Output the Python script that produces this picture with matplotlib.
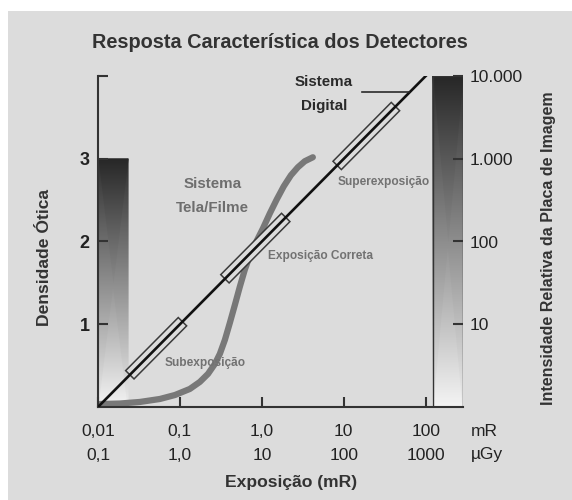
import matplotlib.pyplot as plt
from matplotlib.colors import LinearSegmentedColormap
from matplotlib.patches import Rectangle

plt.rcParams['font.family'] = ['Liberation Sans', 'DejaVu Sans']

BG = '#dcdcdc'
INK = '#333333'

# eixos
exposure_ticks = [0.01, 0.1, 1, 10, 100]
mr_labels = ['0,01', '0,1', '1,0', '10', '100']
ugy_labels = ['0,1', '1,0', '10', '100', '1000']
density_ticks = [1, 2, 3, 4]
density_labels = ['1', '2', '3', '']
intensity_ticks = [10, 100, 1000, 10000]
intensity_labels = ['10', '100', '1.000', '10.000']

# sistema digital (resposta linear)
digital_exp = [0.01, 100]
digital_dens = [0, 4]

# sistema tela/filme (curva sensitométrica)
film_exp = [0.0106, 0.0185, 0.0325, 0.057, 0.087, 0.132, 0.175, 0.22, 0.267, 0.307,
            0.354, 0.407, 0.469, 0.539, 0.62, 0.714, 0.845, 1.03, 1.25, 1.52,
            1.85, 2.26, 2.75, 3.34, 4.19]
film_dens = [0.036, 0.042, 0.061, 0.097, 0.145, 0.218, 0.303, 0.40, 0.521, 0.642,
             0.812, 1.018, 1.236, 1.455, 1.661, 1.83, 1.988, 2.158, 2.339, 2.509,
             2.667, 2.80, 2.897, 2.97, 3.018]

# faixas marcadas sobre a reta digital
box_exp = [(0.0275, 0.0955), (0.398, 1.74), (9.33, 38.0)]
box_dens = [(0.44, 0.98), (1.60, 2.24), (2.97, 3.58)]

# barras de escala de cinza
film_bar_exp = (0.01, 0.0233)
film_bar_dens = 3
plate_bar_exp = (121.6, 285)
plate_bar_dens = 4

fig = plt.figure(figsize=(5.72, 5.0), dpi=100, facecolor='white')
fig.patches.append(Rectangle((8 / 572, 0), 1, 1 - 11 / 500, transform=fig.transFigure,
                             facecolor=BG, edgecolor='none', zorder=-10))

ax = fig.add_axes([98 / 572, 93 / 500, 365 / 572, 331 / 500])
ax.set_facecolor('none')
ax.set_xscale('log')
ax.set_xlim(0.01, 285)
ax.set_ylim(0, 4)

gray = LinearSegmentedColormap.from_list('barra', ['#f4f4f4', '#262626'])

x0, x1 = film_bar_exp
ax.pcolormesh([[x0, x1], [x0, x1]], [[0, 0], [film_bar_dens, film_bar_dens]],
              [[0, 0], [1, 1]], shading='gouraud', cmap=gray, vmin=0, vmax=1, zorder=1)

x0, x1 = plate_bar_exp
ax.pcolormesh([[x0, x1], [x0, x1]], [[0, 0], [plate_bar_dens, plate_bar_dens]],
              [[0, 0], [1, 1]], shading='gouraud', cmap=gray, vmin=0, vmax=1, zorder=1)
ax.add_patch(Rectangle((x0, 0), x1 - x0, plate_bar_dens, fill=False,
                       edgecolor=INK, lw=1.0, zorder=1.5))

ax.plot(film_exp, film_dens, color='#787878', lw=4.5, solid_capstyle='round', zorder=2)

for (e0, e1), (d0, d1) in zip(box_exp, box_dens):
    ax.plot([e0, e1], [d0, d1], color='#3a3a3a', lw=9.6, solid_capstyle='projecting', zorder=3)
    ax.plot([e0, e1], [d0, d1], color=BG, lw=7.4, solid_capstyle='projecting', zorder=3.1)

ax.plot(digital_exp, digital_dens, color='#111111', lw=1.9, zorder=4)

# rótulos internos
ax.text(5.7, 3.93, 'Sistema', ha='center', va='center', fontsize=10.9,
        fontweight='bold', color='#2a2a2a')
ax.text(5.7, 3.64, 'Digital', ha='center', va='center', fontsize=10.9,
        fontweight='bold', color='#2a2a2a')
ax.plot([16.6, 62], [3.81, 3.81], color='#2a2a2a', lw=1.2, zorder=4)

ax.text(0.252, 2.70, 'Sistema', ha='center', va='center', fontsize=10.9,
        fontweight='bold', color='#6e6e6e')
ax.text(0.252, 2.40, 'Tela/Filme', ha='center', va='center', fontsize=10.9,
        fontweight='bold', color='#6e6e6e')

ax.text(30.8, 2.72, 'Superexposição', ha='center', va='center', fontsize=8.6,
        fontweight='bold', color='#727272', zorder=5)
ax.text(1.18, 1.82, 'Exposição Correta', ha='left', va='center', fontsize=8.6,
        fontweight='bold', color='#727272', zorder=5)
ax.text(0.0656, 0.53, 'Subexposição', ha='left', va='center', fontsize=8.6,
        fontweight='bold', color='#727272', zorder=5)

# eixos e marcações
for side in ['top', 'right']:
    ax.spines[side].set_visible(False)
for side in ['left', 'bottom']:
    ax.spines[side].set_color(INK)
    ax.spines[side].set_linewidth(1.5)

ax.set_xticks(exposure_ticks)
ax.set_xticklabels([f'{a}\n{b}' for a, b in zip(mr_labels, ugy_labels)],
                   fontsize=12.5, color='#222222', linespacing=1.8)
ax.set_yticks(density_ticks)
ax.set_yticklabels(density_labels, fontsize=13, fontweight='bold', color='#222222')
ax.minorticks_off()
ax.tick_params(axis='x', direction='in', length=7, width=1.5, color=INK, pad=12)
ax.tick_params(axis='y', direction='in', length=7, width=1.5, color=INK, pad=6)

ax2 = ax.twinx()
ax2.set_yscale('log')
ax2.set_ylim(1, 10000)
ax2.set_yticks(intensity_ticks)
ax2.set_yticklabels(intensity_labels, fontsize=12.5, color='#222222')
ax2.minorticks_off()
ax2.tick_params(axis='y', direction='in', length=7, width=1.5, color=INK, pad=5)
for side in ['top', 'left', 'bottom', 'right']:
    ax2.spines[side].set_visible(False)

fig.text(471 / 572, 1 - 431 / 500, 'mR', ha='left', va='center', fontsize=12.5, color='#222222')
fig.text(471 / 572, 1 - 455 / 500, 'µGy', ha='left', va='center', fontsize=12.5, color='#222222')

fig.text(280 / 572, 1 - 42 / 500, 'Resposta Característica dos Detectores', ha='center',
         va='center', fontsize=14.3, fontweight='bold', color=INK)
fig.text(45 / 572, 1 - 258 / 500, 'Densidade Ótica', ha='center', va='center',
         rotation=90, fontsize=12.6, fontweight='bold', color=INK)
fig.text(548 / 572, 1 - 248 / 500, 'Intensidade Relativa da Placa de Imagem', ha='center',
         va='center', rotation=90, fontsize=11.5, fontweight='bold', color=INK)
fig.text(291 / 572, 1 - 483 / 500, 'Exposição (mR)', ha='center', va='center',
         fontsize=12.6, fontweight='bold', color=INK)

fig.savefig('out.png', dpi=100, facecolor=fig.get_facecolor())
